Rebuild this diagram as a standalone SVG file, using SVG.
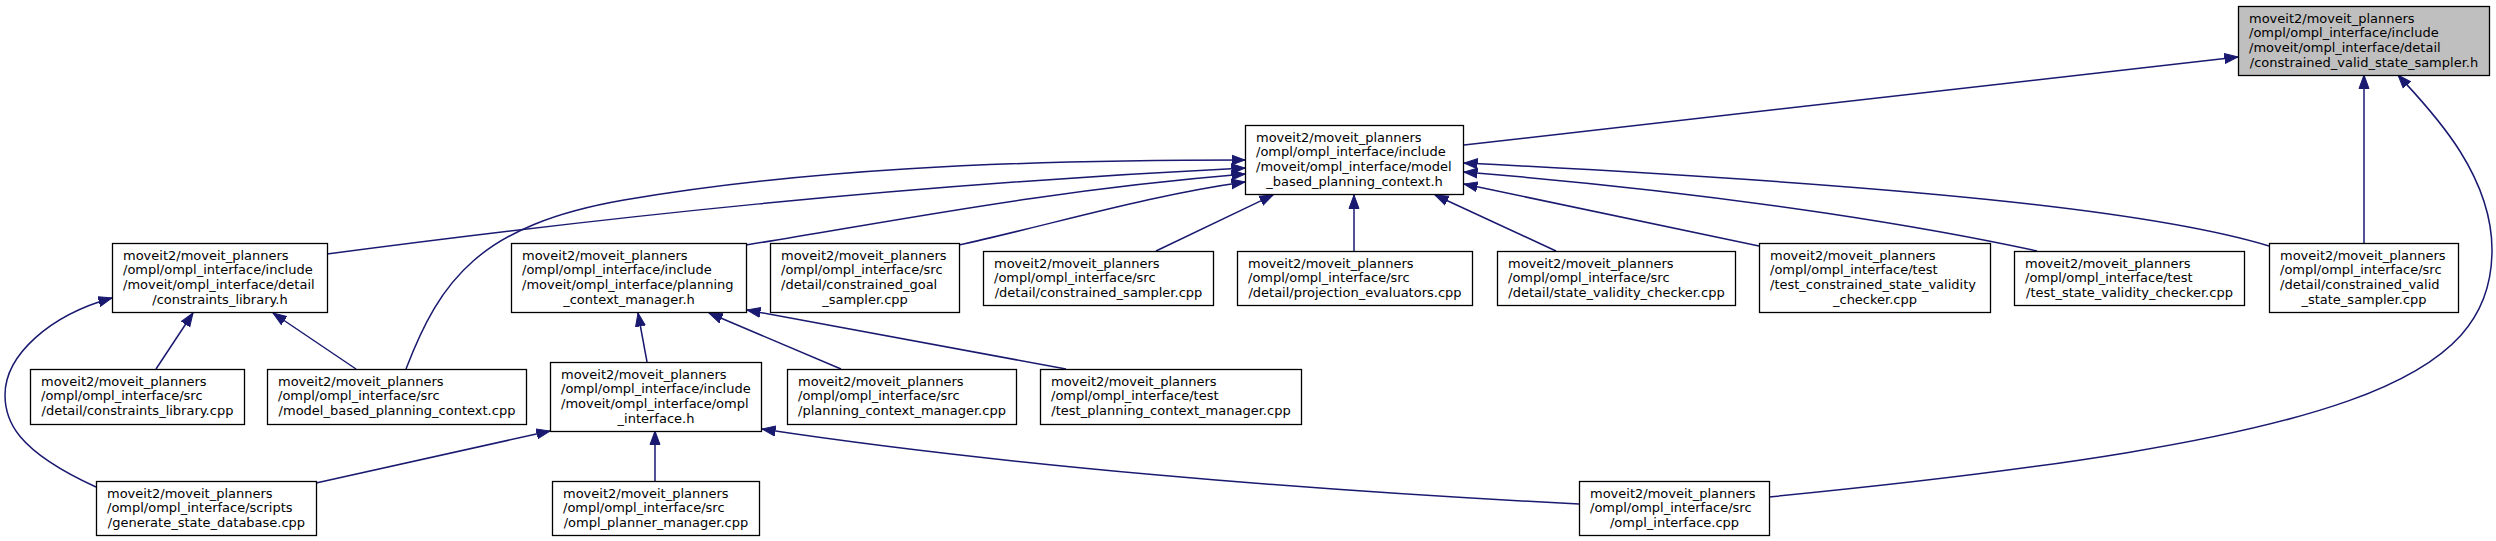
<svg xmlns="http://www.w3.org/2000/svg" width="2496" height="541" viewBox="0 0 2496 541">
<style>
.n rect{fill:#ffffff;stroke:#000000;stroke-width:1.3}
.n.main rect{fill:#bfbfbf}
.n text{font-family:"DejaVu Sans","Liberation Sans",sans-serif;font-size:13px;fill:#000000}
.n .c{text-anchor:middle}
.e path{fill:none;stroke:#191970;stroke-width:1.5;marker-end:url(#ah)}
</style>
<defs>
<marker id="ah" markerUnits="userSpaceOnUse" markerWidth="15" markerHeight="12" refX="13.5" refY="6" orient="auto">
<path d="M0,1 L13.5,6 L0,11 z" fill="#191970" stroke="#191970" stroke-width="1"/>
</marker>
</defs>
<rect width="2496" height="541" fill="#ffffff"/>
<g id="edges" class="e">
<path d="M1464,145 L2238,57"/>
<path d="M2364,243 L2364,75"/>
<path d="M1769,497 C2350,440 2492,380 2492,250 C2492,170 2425,105 2398,75"/>
<path d="M327,254 C600,218 900,185 1245,168"/>
<path d="M406,369 C440,280 480,225 624,200 C800,170 1000,160 1245,160"/>
<path d="M746,245 C900,220 1050,190 1245,174"/>
<path d="M959,245 C1050,225 1150,195 1245,182"/>
<path d="M1156,251 L1273,195"/>
<path d="M1354,251 L1354,195"/>
<path d="M1556,251 L1435,195"/>
<path d="M1759,246 L1464,184"/>
<path d="M2037,251 C1950,232 1750,195 1464,172"/>
<path d="M2269,246 C2150,210 1900,185 1464,163"/>
<path d="M156,369 L193,313"/>
<path d="M356,369 L273,313"/>
<path d="M96,487 C15,450 5,420 5,395 C5,355 50,315 112,298"/>
<path d="M316,483 L550,431"/>
<path d="M655,481 L655,431"/>
<path d="M1579,504 C1300,490 1000,465 762,429"/>
<path d="M647,362 L638,313"/>
<path d="M841,369 L709,313"/>
<path d="M1066,369 L747,310"/>
</g>
<g id="n_main" class="n main">
<rect x="2238.5" y="6.5" width="251" height="69"/>
<text y="22.5"><tspan x="2249">moveit2/moveit_planners</tspan><tspan x="2249" y="37.2">/ompl/ompl_interface/include</tspan><tspan x="2249" y="51.9">/moveit/ompl_interface/detail</tspan><tspan class="c" x="2364" y="66.6">/constrained_valid_state_sampler.h</tspan></text>
</g>
<g id="n_model_based_h" class="n">
<rect x="1245.5" y="125.5" width="218" height="69"/>
<text y="141.5"><tspan x="1256">moveit2/moveit_planners</tspan><tspan x="1256" y="156.2">/ompl/ompl_interface/include</tspan><tspan x="1256" y="170.9">/moveit/ompl_interface/model</tspan><tspan class="c" x="1354.5" y="185.6">_based_planning_context.h</tspan></text>
</g>
<g id="n_constraints_library_h" class="n">
<rect x="112.5" y="243.5" width="215" height="69"/>
<text y="259.5"><tspan x="123">moveit2/moveit_planners</tspan><tspan x="123" y="274.2">/ompl/ompl_interface/include</tspan><tspan x="123" y="288.9">/moveit/ompl_interface/detail</tspan><tspan class="c" x="220" y="303.6">/constraints_library.h</tspan></text>
</g>
<g id="n_planning_context_manager_h" class="n">
<rect x="511.5" y="243.5" width="235" height="69"/>
<text y="259.5"><tspan x="522">moveit2/moveit_planners</tspan><tspan x="522" y="274.2">/ompl/ompl_interface/include</tspan><tspan x="522" y="288.9">/moveit/ompl_interface/planning</tspan><tspan class="c" x="629" y="303.6">_context_manager.h</tspan></text>
</g>
<g id="n_constrained_goal_sampler" class="n">
<rect x="770.5" y="243.5" width="189" height="69"/>
<text y="259.5"><tspan x="781">moveit2/moveit_planners</tspan><tspan x="781" y="274.2">/ompl/ompl_interface/src</tspan><tspan x="781" y="288.9">/detail/constrained_goal</tspan><tspan class="c" x="865" y="303.6">_sampler.cpp</tspan></text>
</g>
<g id="n_constrained_sampler" class="n">
<rect x="983.5" y="251.5" width="230" height="54"/>
<text y="267.5"><tspan x="994">moveit2/moveit_planners</tspan><tspan x="994" y="282.2">/ompl/ompl_interface/src</tspan><tspan class="c" x="1098.5" y="296.9">/detail/constrained_sampler.cpp</tspan></text>
</g>
<g id="n_projection_evaluators" class="n">
<rect x="1237.5" y="251.5" width="235" height="54"/>
<text y="267.5"><tspan x="1248">moveit2/moveit_planners</tspan><tspan x="1248" y="282.2">/ompl/ompl_interface/src</tspan><tspan class="c" x="1355" y="296.9">/detail/projection_evaluators.cpp</tspan></text>
</g>
<g id="n_state_validity_checker" class="n">
<rect x="1497.5" y="251.5" width="238" height="54"/>
<text y="267.5"><tspan x="1508">moveit2/moveit_planners</tspan><tspan x="1508" y="282.2">/ompl/ompl_interface/src</tspan><tspan class="c" x="1616.5" y="296.9">/detail/state_validity_checker.cpp</tspan></text>
</g>
<g id="n_test_constrained_state_validity_checker" class="n">
<rect x="1759.5" y="243.5" width="231" height="69"/>
<text y="259.5"><tspan x="1770">moveit2/moveit_planners</tspan><tspan x="1770" y="274.2">/ompl/ompl_interface/test</tspan><tspan x="1770" y="288.9">/test_constrained_state_validity</tspan><tspan class="c" x="1875" y="303.6">_checker.cpp</tspan></text>
</g>
<g id="n_test_state_validity_checker" class="n">
<rect x="2014.5" y="251.5" width="230" height="54"/>
<text y="267.5"><tspan x="2025">moveit2/moveit_planners</tspan><tspan x="2025" y="282.2">/ompl/ompl_interface/test</tspan><tspan class="c" x="2129.5" y="296.9">/test_state_validity_checker.cpp</tspan></text>
</g>
<g id="n_constrained_valid_state_sampler_cpp" class="n">
<rect x="2269.5" y="243.5" width="189" height="69"/>
<text y="259.5"><tspan x="2280">moveit2/moveit_planners</tspan><tspan x="2280" y="274.2">/ompl/ompl_interface/src</tspan><tspan x="2280" y="288.9">/detail/constrained_valid</tspan><tspan class="c" x="2364" y="303.6">_state_sampler.cpp</tspan></text>
</g>
<g id="n_constraints_library_cpp" class="n">
<rect x="30.5" y="369.5" width="214" height="55"/>
<text y="385.5"><tspan x="41">moveit2/moveit_planners</tspan><tspan x="41" y="400.2">/ompl/ompl_interface/src</tspan><tspan class="c" x="137.5" y="414.9">/detail/constraints_library.cpp</tspan></text>
</g>
<g id="n_model_based_planning_context_cpp" class="n">
<rect x="267.5" y="369.5" width="259" height="55"/>
<text y="385.5"><tspan x="278">moveit2/moveit_planners</tspan><tspan x="278" y="400.2">/ompl/ompl_interface/src</tspan><tspan class="c" x="397" y="414.9">/model_based_planning_context.cpp</tspan></text>
</g>
<g id="n_ompl_interface_h" class="n">
<rect x="550.5" y="362.5" width="211" height="69"/>
<text y="378.5"><tspan x="561">moveit2/moveit_planners</tspan><tspan x="561" y="393.2">/ompl/ompl_interface/include</tspan><tspan x="561" y="407.9">/moveit/ompl_interface/ompl</tspan><tspan class="c" x="656" y="422.6">_interface.h</tspan></text>
</g>
<g id="n_planning_context_manager_cpp" class="n">
<rect x="787.5" y="369.5" width="229" height="55"/>
<text y="385.5"><tspan x="798">moveit2/moveit_planners</tspan><tspan x="798" y="400.2">/ompl/ompl_interface/src</tspan><tspan class="c" x="902" y="414.9">/planning_context_manager.cpp</tspan></text>
</g>
<g id="n_test_planning_context_manager" class="n">
<rect x="1040.5" y="369.5" width="261" height="55"/>
<text y="385.5"><tspan x="1051">moveit2/moveit_planners</tspan><tspan x="1051" y="400.2">/ompl/ompl_interface/test</tspan><tspan class="c" x="1171" y="414.9">/test_planning_context_manager.cpp</tspan></text>
</g>
<g id="n_generate_state_database" class="n">
<rect x="96.5" y="481.5" width="220" height="54"/>
<text y="497.5"><tspan x="107">moveit2/moveit_planners</tspan><tspan x="107" y="512.2">/ompl/ompl_interface/scripts</tspan><tspan class="c" x="206.5" y="526.9">/generate_state_database.cpp</tspan></text>
</g>
<g id="n_ompl_planner_manager" class="n">
<rect x="552.5" y="481.5" width="207" height="54"/>
<text y="497.5"><tspan x="563">moveit2/moveit_planners</tspan><tspan x="563" y="512.2">/ompl/ompl_interface/src</tspan><tspan class="c" x="656" y="526.9">/ompl_planner_manager.cpp</tspan></text>
</g>
<g id="n_ompl_interface_cpp" class="n">
<rect x="1579.5" y="481.5" width="190" height="54"/>
<text y="497.5"><tspan x="1590">moveit2/moveit_planners</tspan><tspan x="1590" y="512.2">/ompl/ompl_interface/src</tspan><tspan class="c" x="1674.5" y="526.9">/ompl_interface.cpp</tspan></text>
</g>
</svg>
